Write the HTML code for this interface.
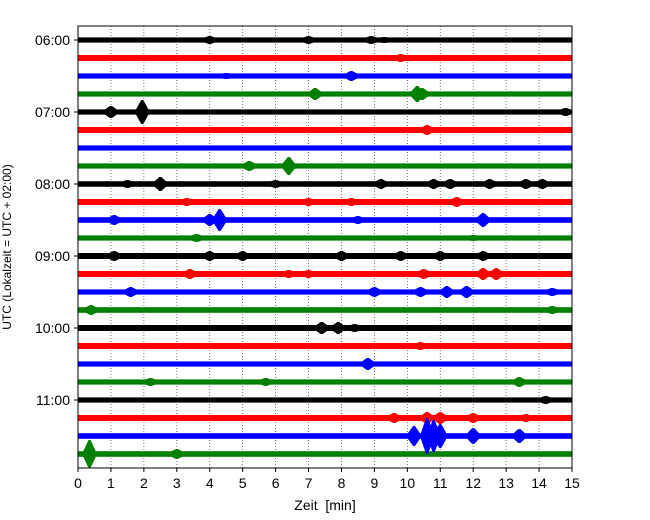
<!DOCTYPE html>
<html><head><meta charset="utf-8"><style>
body{margin:0;background:#fff}
svg{display:block;font-family:"Liberation Sans",sans-serif}
</style></head><body>
<svg id="c" width="650" height="520"></svg>
<script>
const rowLabels=["06:00","","","","07:00","","","","08:00","","","","09:00","","","","10:00","","","","11:00","","",""];
const baseAmp=[2.6,3,2.6,2.6,2.6,3,2.6,2.6,2.8,3,2.8,2.6,3,3,2.6,2.8,3,3,2.6,2.6,2.6,3,2.8,2.8];
const xTicks=[0,1,2,3,4,5,6,7,8,9,10,11,12,13,14,15];
const evRow=[0,0,0,0,1,1,2,2,3,3,3,4,4,4,5,7,7,8,8,8,8,8,8,8,8,8,9,9,9,9,10,10,10,10,10,11,11,12,12,12,12,12,12,12,13,13,13,13,13,13,14,14,14,14,14,14,15,15,16,16,16,17,18,19,19,19,20,21,21,21,21,21,22,22,22,22,22,22,23,23];
const evMin=[4.0,7.0,8.9,9.3,9.8,14,8.3,4.5,7.2,10.3,10.45,1.0,1.95,14.8,10.6,5.2,6.4,2.5,1.5,6.0,9.2,10.8,11.3,12.5,13.6,14.1,3.3,7,8.3,11.5,4.3,4.0,1.1,12.3,8.5,3.6,12,1.1,4,5,8,9.8,11,12.3,3.4,6.4,7,10.5,12.3,12.7,1.6,9,10.4,11.2,11.8,14.4,0.4,14.4,7.4,7.9,8.4,10.4,8.8,2.2,5.7,13.4,14.2,9.6,10.6,11.0,12.0,13.6,10.2,10.6,10.8,11.0,12.0,13.4,0.35,3.0];
const evAmp=[4,4,4,3,4,3,5,3,6,8,6,6,12,4,5,5,9,7,4,4,5,5,5,5,5,5,4,4,4,5,11,6,5,7,4,4,3,5,5,5,5,5,5,5,5,4,4,5,6,6,5,5,5,6,6,4,5,4,6,6,4,4,6,4,4,5,4,5,6,6,5,4,10,18,16,12,8,7,14,5];
const colors=["#000","#f00","#00f","#008000"];
const L=78,R=572,T=26,B=468,y0=40,dy=18;
const xs=m=>L+(R-L)*m/15, ys=r=>y0+r*dy;
const NS="http://www.w3.org/2000/svg",svg=document.getElementById('c');
function mk(t,a,p){const e=document.createElementNS(NS,t);for(const k in a)e.setAttribute(k,a[k]);(p||svg).appendChild(e);return e;}
xTicks.forEach(t=>{if(t>0&&t<15){const g=mk('line',{x1:xs(t),x2:xs(t),y1:T,y2:B,stroke:'#555','stroke-width':0.8,'stroke-dasharray':'1,2'});

}});
baseAmp.forEach((a,r)=>{const c=colors[r%4];
const band=mk('rect',{x:L,y:ys(r)-a,width:R-L,height:2*a,fill:c});

});
evRow.forEach((r,i)=>{const c=colors[r%4],x=xs(evMin[i]),y=ys(r),h=evAmp[i],w=(R-L)/15*0.2,s=(R-L)/15*0.03;
const p=mk('polygon',{points:`${x-w},${y-2} ${x-s},${y-h} ${x+s},${y-h} ${x+w},${y-2} ${x+w},${y+2} ${x+s},${y+h} ${x-s},${y+h} ${x-w},${y+2}`,fill:c});

});
const f=mk('rect',{x:L,y:T,width:R-L,height:B-T,fill:'none',stroke:'#000','stroke-width':1});


xTicks.forEach(t=>{mk('line',{x1:xs(t),x2:xs(t),y1:B,y2:B+4,stroke:'#000'});
const tx=mk('text',{x:xs(t),y:B+20,'text-anchor':'middle','font-size':14});tx.textContent=t;

});
rowLabels.forEach((l,r)=>{if(!l)return;mk('line',{x1:L-4,x2:L,y1:ys(r),y2:ys(r),stroke:'#000'});
const tx=mk('text',{x:L-8,y:ys(r)+5,'text-anchor':'end','font-size':14});tx.textContent=l;

});
const xt=mk('text',{x:(L+R)/2,y:510,'text-anchor':'middle','font-size':14});xt.textContent='Zeit\u00a0 [min]';


const yt=mk('text',{x:0,y:0,'text-anchor':'middle','font-size':12,transform:`translate(11,${(T+B)/2}) rotate(-90)`});yt.textContent='UTC (Lokalzeit = UTC + 02:00)';


</script>
</body></html>
